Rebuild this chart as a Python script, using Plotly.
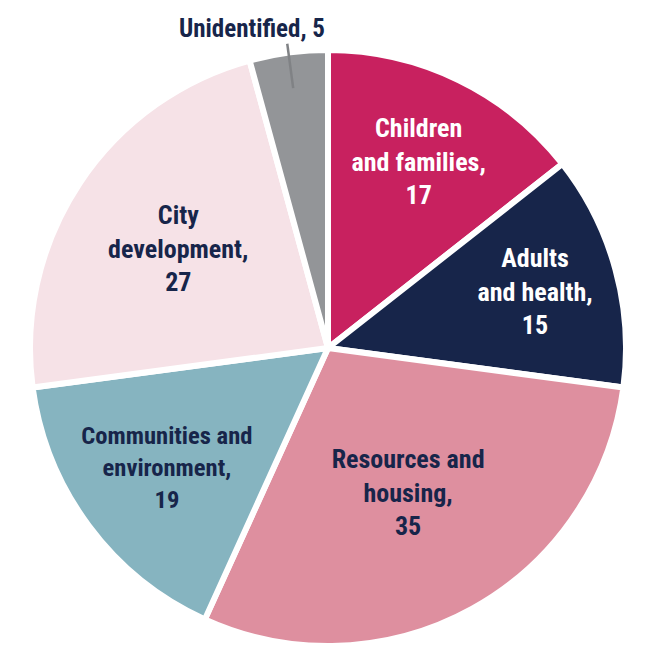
import math
import plotly.graph_objects as go

categories = ["Children and families", "Adults and health", "Resources and housing",
              "Communities and environment", "City development", "Unidentified"]
values = [17, 15, 35, 19, 27, 5]
label_text = ["Children<br>and families,<br>17", "Adults<br>and health,<br>15",
              "Resources and<br>housing,<br>35", "Communities and<br>environment,<br>19",
              "City<br>development,<br>27", ""]
colors = ["#C8215F", "#17254A", "#DE8F9F", "#86B4C0", "#F6E2E7", "#939598"]
text_colors = ["#FFFFFF", "#FFFFFF", "#17254A", "#17254A", "#17254A", "#17254A"]

W, H = 647, 646
CX, CY, R = 328, 348, 298  # pixel centre / radius
FONT = "Roboto Condensed, DejaVu Sans Condensed, Liberation Sans Narrow, sans-serif"

fig = go.Figure(go.Pie(
    labels=categories, values=values, text=label_text, textinfo="text",
    sort=False, direction="clockwise", rotation=0,
    marker=dict(colors=colors, line=dict(color="white", width=6)),
    textposition="inside", insidetextorientation="horizontal",
    textfont=dict(family=FONT, size=26, color=text_colors, weight="bold"),
    hoverinfo="label+value",
    domain=dict(x=[max(0, (CX - R) / W), min(1, (CX + R) / W)],
                y=[max(0, (H - CY - R) / H), min(1, (H - CY + R) / H)]),
    showlegend=False,
))

# leader line + outside label for the small slice
total = sum(values)
before = sum(values[:-1])
mid = (before + values[-1] / 2) / total * 2 * math.pi
def pt(r):
    x = CX + r * math.sin(mid)
    y = CY - r * math.cos(mid)
    return x / W, 1 - y / H
x0, y0 = pt(R * 0.88)
x1, y1 = pt(R * 1.03)
fig.add_shape(type="line", xref="paper", yref="paper", x0=x0, y0=y0, x1=x1, y1=y1,
              line=dict(color="#808285", width=2.5))
fig.add_annotation(xref="paper", yref="paper", x=x1 - 0.054, y=y1 - 0.002,
                   xanchor="center", yanchor="bottom", showarrow=False,
                   text=f"{categories[-1].split()[0]}, {values[-1]}",
                   font=dict(family=FONT, size=25, color="#17254A", weight="bold"))

fig.update_layout(width=W, height=H, margin=dict(l=0, r=0, t=0, b=0),
                  paper_bgcolor="white", plot_bgcolor="white")
fig.write_html("out.html")
